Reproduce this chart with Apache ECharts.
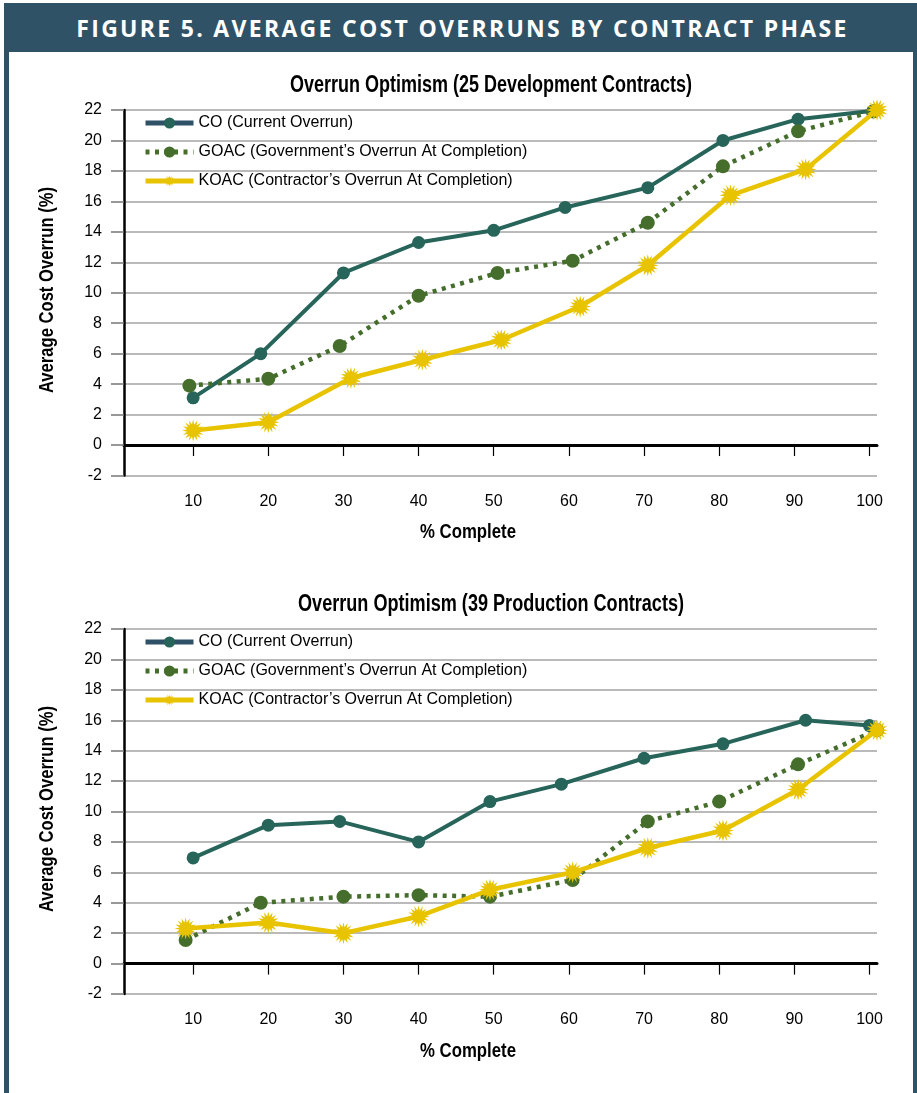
<!DOCTYPE html>
<html>
<head>
<meta charset="utf-8">
<script src="https://cdn.jsdelivr.net/npm/echarts@6/dist/echarts.min.js"></script>
<style>
  html, body { margin: 0; padding: 0; background: #ffffff; }
  #frame { position: absolute; left: 4px; top: 3px; width: 913px; height: 1090px; background: #2f5266; }
  #inner { position: absolute; left: 9px; top: 52px; width: 904px; height: 1041px; background: #ffffff; }
  #hdr { position: absolute; left: 6px; top: 4px; width: 913px; height: 49px; line-height: 49px;
         text-align: center; color: #ffffff; font-family: 'Open Sans', sans-serif; font-weight: 700;
         font-size: 23px; letter-spacing: 2.3px; white-space: nowrap; }
  #chart { position: absolute; left: 0; top: 0; width: 917px; height: 1093px; }
</style>
</head>
<body>
<div id="frame"></div>
<div id="inner"></div>
<div id="hdr">FIGURE 5. AVERAGE COST OVERRUNS BY CONTRACT PHASE</div>
<div id="chart"></div>
<script>
// ---------- data ----------
const chartTitles = ['Overrun Optimism (25 Development Contracts)', 'Overrun Optimism (39 Production Contracts)'];
const seriesNames = ['CO (Current Overrun)', 'GOAC (Government\u2019s Overrun At Completion)', 'KOAC (Contractor\u2019s Overrun At Completion)'];
const xTickValues = [10, 20, 30, 40, 50, 60, 70, 80, 90, 100];
const xAxisTitle = '% Complete';
const yAxisTitle = 'Average Cost Overrun (%)';

// Development contracts: [% complete, average cost overrun %]
const devCO   = [[10,3.1],[19,6.0],[30,11.3],[40,13.3],[50,14.1],[59.5,15.6],[70.5,16.9],[80.5,20.0],[90.5,21.4],[100.5,21.95]];
const devGOAC = [[9.5,3.9],[20,4.35],[29.5,6.5],[40,9.8],[50.5,11.3],[60.5,12.1],[70.5,14.6],[80.5,18.3],[90.5,20.6],[100.5,21.9]];
const devKOAC = [[10,0.95],[20,1.5],[31,4.4],[40.5,5.6],[51,6.9],[61.5,9.1],[70.5,11.8],[81.5,16.4],[91.5,18.1],[101,22.0]];

// Production contracts
const prodCO   = [[10,6.95],[20,9.1],[29.5,9.35],[40,8.0],[49.5,10.65],[59,11.8],[70,13.5],[80.5,14.45],[91.5,16.0],[100,15.65]];
const prodGOAC = [[9,1.55],[19,4.0],[30,4.4],[40,4.5],[49.5,4.4],[60.5,5.5],[70.5,9.35],[80,10.65],[90.5,13.1],[101,15.35]];
const prodKOAC = [[9,2.3],[20,2.7],[30,2.0],[40,3.1],[49.5,4.85],[60.5,6.0],[70.5,7.6],[80.5,8.75],[90.5,11.45],[101,15.35]];

// ---------- styling ----------
const FONT = "'Liberation Sans', Arial, sans-serif";
const cCO = '#27645a', cGOAC = '#456d2c', cKOAC = '#e8c300', cLegendCO = '#2e5168';

// horizontal squeeze factor so a text fits a target width (emulates the condensed face)
const measureCtx = document.createElement('canvas').getContext('2d');
function fitScale(text, font, targetWidth) {
  measureCtx.font = font;
  return Math.min(1, targetWidth / measureCtx.measureText(text).width);
}

function starPath(n, rOut, rIn) {
  let d = '';
  for (let i = 0; i < 2 * n; i++) {
    const a = i * Math.PI / n - Math.PI / 2;
    const r = (i % 2) ? rIn : rOut;
    d += (i ? 'L' : 'M') + (50 + r * Math.cos(a)).toFixed(2) + ' ' + (50 + r * Math.sin(a)).toFixed(2);
  }
  return 'path://' + d + 'Z';
}
const starSym = starPath(16, 50, 28);

const grids = [
  { left: 124, right: 40, top: 110, height: 365.5 },
  { left: 124, right: 40, top: 629, height: 365 }
];

function xAxisFor(gi) {
  return {
    type: 'value', gridIndex: gi, min: 0.8, max: 101,
    axisLine: { show: true, lineStyle: { color: '#000', width: 3 } },
    axisTick: { show: true, customValues: xTickValues, length: 11, lineStyle: { color: '#000', width: 1.2 } },
    axisLabel: { customValues: xTickValues, margin: 18, fontFamily: FONT, fontSize: 16, color: '#000' },
    splitLine: { show: false }
  };
}
function yAxisFor(gi) {
  return {
    type: 'value', gridIndex: gi, min: -2, max: 22, interval: 2,
    axisLine: { show: true, lineStyle: { color: '#000', width: 2.5 } },
    axisTick: { show: true, inside: false, length: 13, lineStyle: { color: '#777', width: 1.5 } },
    axisLabel: { margin: 22, fontFamily: FONT, fontSize: 16, color: '#000', padding: [0, 0, 14, 0] },
    splitLine: { show: true, lineStyle: { color: '#a3a3a3', width: 1.5 } }
  };
}
function seriesFor(gi, co, goac, koac) {
  return [
    { name: seriesNames[0], type: 'line', xAxisIndex: gi, yAxisIndex: gi, data: co,
      symbol: 'circle', symbolSize: 13, lineStyle: { color: cCO, width: 4 }, itemStyle: { color: cCO }, z: 3 },
    { name: seriesNames[1], type: 'line', xAxisIndex: gi, yAxisIndex: gi, data: goac,
      symbol: 'circle', symbolSize: 14, lineStyle: { color: cGOAC, width: 4.5, type: [4, 5.5], cap: 'butt' },
      itemStyle: { color: cGOAC }, z: 4 },
    { name: seriesNames[2], type: 'line', xAxisIndex: gi, yAxisIndex: gi, data: koac,
      symbol: starSym, symbolSize: 22, lineStyle: { color: cKOAC, width: 4.5 }, itemStyle: { color: cKOAC }, z: 5 }
  ];
}
function legendFor(top) {
  return {
    orient: 'vertical', left: 143, top: top, padding: 0, itemWidth: 48, itemHeight: 14, itemGap: 13,
    selectedMode: false,
    textStyle: { fontFamily: FONT, fontSize: 16, color: '#000' },
    data: [
      { name: seriesNames[0], itemStyle: { color: cCO }, lineStyle: { color: cLegendCO, width: 5 } },
      { name: seriesNames[1], lineStyle: { width: 5, type: [4, 5.5] } },
      { name: seriesNames[2], lineStyle: { width: 5 } }
    ]
  };
}

function textEl(text, x, y, font, targetWidth, rotation) {
  const s = fitScale(text, font, targetWidth);
  return { type: 'text', x: x, y: y, rotation: rotation || 0, scaleX: s, scaleY: 1,
    style: { text: text, x: 0, y: 0, align: 'center', verticalAlign: 'middle', font: font, fill: '#000' } };
}

const titleFont = 'bold 23px ' + FONT;
const axisNameFont = 'bold 20px ' + FONT;

const chart = echarts.init(document.getElementById('chart'), null, { renderer: 'canvas' });
chart.setOption({
  backgroundColor: 'transparent',
  animation: false,
  grid: grids,
  xAxis: [xAxisFor(0), xAxisFor(1)],
  yAxis: [yAxisFor(0), yAxisFor(1)],
  legend: [legendFor(115), legendFor(634)],
  graphic: [
    textEl(chartTitles[0], 491, 86, titleFont, 402),
    textEl(chartTitles[1], 491, 605, titleFont, 386),
    textEl(xAxisTitle, 468, 532, axisNameFont, 96),
    textEl(xAxisTitle, 468, 1051, axisNameFont, 96),
    textEl(yAxisTitle, 47, 290, axisNameFont, 206, Math.PI / 2),
    textEl(yAxisTitle, 47, 809, axisNameFont, 206, Math.PI / 2)
  ],
  series: [].concat(seriesFor(0, devCO, devGOAC, devKOAC), seriesFor(1, prodCO, prodGOAC, prodKOAC))
});
</script>
</body>
</html>
